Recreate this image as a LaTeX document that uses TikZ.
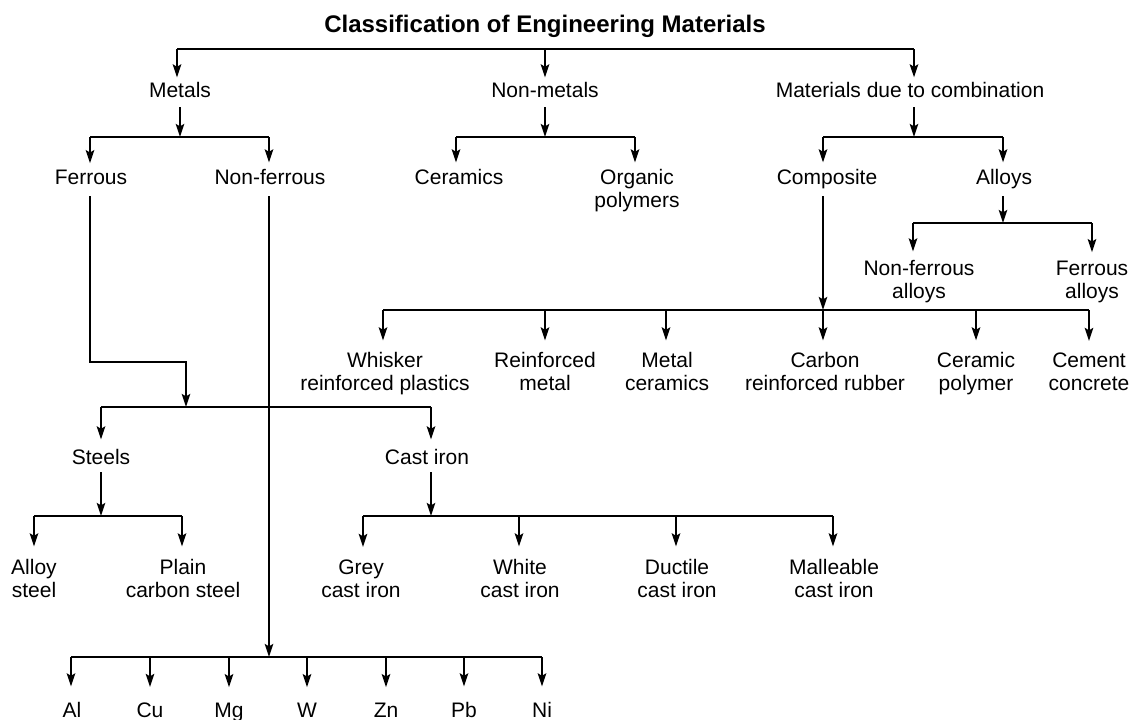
\documentclass[tikz,border=0pt]{standalone}
\usepackage{fontspec}
\setmainfont{Liberation Sans}
\usetikzlibrary{arrows.meta,calc}
\begin{document}
\begin{tikzpicture}[x=0.5pt,y=-0.5pt,
  lbl/.style={font=\fontsize{10.5}{11.5}\selectfont, align=center, inner sep=0pt, anchor=base},
  ttl/.style={font=\fontsize{12}{14}\selectfont\bfseries, inner sep=0pt, anchor=base},
  conn/.style={line width=1.1pt},
  arr/.style={conn,-{Stealth[length=6.5pt,width=4.2pt,inset=1.2pt]}},
  tipA/.style={arr,shorten >=2pt},
  tipB/.style={arr,shorten >=3pt},
  tipC/.style={arr,shorten >=4pt},
  tipD/.style={arr,shorten >=5.5pt},
  tipE/.style={arr,shorten >=4.5pt},
  tipF/.style={arr,shorten >=6pt},
  tipG/.style={arr,shorten >=7.5pt},
]
\useasboundingbox (0,0) rectangle (1134,719);

% ---------- nodes (multi-line nodes are placed by their last baseline) ----------
\node[ttl] (title) at (545,32) {Classification of Engineering Materials};
\node[lbl] (metals) at (180,97) {Metals};
\node[lbl] (nonmetals) at (545,97) {Non-metals};
\node[lbl] (comb) at (910,97) {Materials due to combination};
\node[lbl] (ferrous) at (91,184) {Ferrous};
\node[lbl] (nonferrous) at (270,184) {Non-ferrous};
\node[lbl] (ceramics) at (459,184) {Ceramics};
\node[lbl] (organic) at (637,207) {Organic\\polymers};
\node[lbl] (composite) at (827,184) {Composite};
\node[lbl] (alloys) at (1004,184) {Alloys};
\node[lbl] (nfalloys) at (919,298) {Non-ferrous\\alloys};
\node[lbl] (falloys) at (1092,298) {Ferrous\\alloys};
\node[lbl] (whisker) at (385,390) {Whisker\\reinforced plastics};
\node[lbl] (reinf) at (545,390) {Reinforced\\metal};
\node[lbl] (metcer) at (667,390) {Metal\\ceramics};
\node[lbl] (carbon) at (825,390) {Carbon\\reinforced rubber};
\node[lbl] (cerpoly) at (976,390) {Ceramic\\polymer};
\node[lbl] (cement) at (1089,390) {Cement\\concrete};
\node[lbl] (steels) at (101,464) {Steels};
\node[lbl] (castiron) at (427,464) {Cast iron};
\node[lbl] (alloysteel) at (34,597) {Alloy\\steel};
\node[lbl] (plaincs) at (183,597) {Plain\\carbon steel};
\node[lbl] (grey) at (361,597) {Grey\\cast iron};
\node[lbl] (white) at (520,597) {White\\cast iron};
\node[lbl] (ductile) at (677,597) {Ductile\\cast iron};
\node[lbl] (malleable) at (834,597) {Malleable\\cast iron};
\node[lbl] (al) at (72,717) {Al};
\node[lbl] (cu) at (150,717) {Cu};
\node[lbl] (mg) at (229,717) {Mg};
\node[lbl] (w) at (307,717) {W};
\node[lbl] (zn) at (386,717) {Zn};
\node[lbl] (pb) at (464,717) {Pb};
\node[lbl] (ni) at (542,717) {Ni};

% ---------- junction coordinates ----------
\coordinate (jT1) at (177,49);
\coordinate (jT2) at (545,49);
\coordinate (jT3) at (914,49);

\coordinate (jM) at (180,137);
\coordinate (jM1) at (90,137);
\coordinate (jM2) at (269,137);

\coordinate (jN) at (545,137);
\coordinate (jN1) at (456,137);
\coordinate (jN2) at (635,137);

\coordinate (jC) at (914,137);
\coordinate (jC1) at (823,137);
\coordinate (jC2) at (1003,137);

\coordinate (jA) at (1003,223);
\coordinate (jA1) at (913,223);
\coordinate (jA2) at (1092,223);

\coordinate (jK) at (823,310);
\coordinate (jK1) at (383,310);
\coordinate (jK2) at (545,310);
\coordinate (jK3) at (666,310);
\coordinate (jK4) at (976,310);
\coordinate (jK5) at (1089,310);

\coordinate (jF0) at (90,362);
\coordinate (jF1) at (186,362);
\coordinate (jF) at (186,407);
\coordinate (jF2) at (101,407);
\coordinate (jF3) at (431,407);

\coordinate (jS) at (101,516);
\coordinate (jS1) at (34,516);
\coordinate (jS2) at (182,516);

\coordinate (jI) at (431,516);
\coordinate (jI1) at (363,516);
\coordinate (jI2) at (519,516);
\coordinate (jI3) at (676,516);
\coordinate (jI4) at (833,516);

\coordinate (jB) at (269,657);
\coordinate (jB1) at (71,657);
\coordinate (jB2) at (150,657);
\coordinate (jB3) at (229,657);
\coordinate (jB4) at (307,657);
\coordinate (jB5) at (386,657);
\coordinate (jB6) at (464,657);
\coordinate (jB7) at (542,657);

% ---------- top level ----------
\draw[conn] (jT1) -- (jT3);
\draw[tipA] (jT1) -- (jT1 |- metals.north);
\draw[tipA] (jT2) -- (jT2 |- nonmetals.north);
\draw[tipA] (jT3) -- (jT3 |- comb.north);

% ---------- metals ----------
\draw[arr] ($(jM |- metals.base)+(0,10)$) -- (jM);
\draw[conn] (jM1) -- (jM2);
\draw[tipB] (jM1) -- (jM1 |- ferrous.north);
\draw[tipB] (jM2) -- (jM2 |- nonferrous.north);

% ---------- non-metals ----------
\draw[arr] ($(jN |- nonmetals.base)+(0,10)$) -- (jN);
\draw[conn] (jN1) -- (jN2);
\draw[tipB] (jN1) -- (jN1 |- ceramics.north);
\draw[tipB] (jN2) -- (jN2 |- organic.north);

% ---------- combination ----------
\draw[arr] ($(jC |- comb.base)+(0,10)$) -- (jC);
\draw[conn] (jC1) -- (jC2);
\draw[tipB] (jC1) -- (jC1 |- composite.north);
\draw[tipB] (jC2) -- (jC2 |- alloys.north);

% ---------- alloys ----------
\draw[arr] ($(jA |- alloys.base)+(0,12)$) -- (jA);
\draw[conn] (jA1) -- (jA2);
\draw[tipC] (jA1) -- (jA1 |- nfalloys.north);
\draw[tipC] (jA2) -- (jA2 |- falloys.north);

% ---------- composite ----------
\draw[arr] ($(jK |- composite.base)+(0,12)$) -- (jK);
\draw[conn] (jK1) -- (jK5);
\draw[tipD] (jK1) -- (jK1 |- whisker.north);
\draw[tipD] (jK2) -- (jK2 |- reinf.north);
\draw[tipD] (jK3) -- (jK3 |- metcer.north);
\draw[tipD] (jK) -- (jK |- carbon.north);
\draw[tipD] (jK4) -- (jK4 |- cerpoly.north);
\draw[tipD] (jK5) -- (jK5 |- cement.north);

% ---------- ferrous ----------
\draw[arr] ($(jF0 |- ferrous.base)+(0,12)$) -- (jF0) -- (jF1) -- (jF);
\draw[conn] (jF2) -- (jF3);
\draw[tipE] (jF2) -- (jF2 |- steels.north);
\draw[tipE] (jF3) -- (jF3 |- castiron.north);

% ---------- steels ----------
\draw[arr] ($(jS |- steels.base)+(0,8)$) -- (jS);
\draw[conn] (jS1) -- (jS2);
\draw[tipF] (jS1) -- (jS1 |- alloysteel.north);
\draw[tipF] (jS2) -- (jS2 |- plaincs.north);

% ---------- cast iron ----------
\draw[arr] ($(jI |- castiron.base)+(0,8)$) -- (jI);
\draw[conn] (jI1) -- (jI4);
\draw[tipF] (jI1) -- (jI1 |- grey.north);
\draw[tipF] (jI2) -- (jI2 |- white.north);
\draw[tipF] (jI3) -- (jI3 |- ductile.north);
\draw[tipF] (jI4) -- (jI4 |- malleable.north);

% ---------- non-ferrous ----------
\draw[arr] ($(jB |- nonferrous.base)+(0,12)$) -- (jB);
\draw[conn] (jB1) -- (jB7);
\draw[tipG] (jB1) -- (jB1 |- al.north);
\draw[tipG] (jB2) -- (jB2 |- cu.north);
\draw[tipG] (jB3) -- (jB3 |- mg.north);
\draw[tipG] (jB4) -- (jB4 |- w.north);
\draw[tipG] (jB5) -- (jB5 |- zn.north);
\draw[tipG] (jB6) -- (jB6 |- pb.north);
\draw[tipG] (jB7) -- (jB7 |- ni.north);
\end{tikzpicture}
\end{document}
